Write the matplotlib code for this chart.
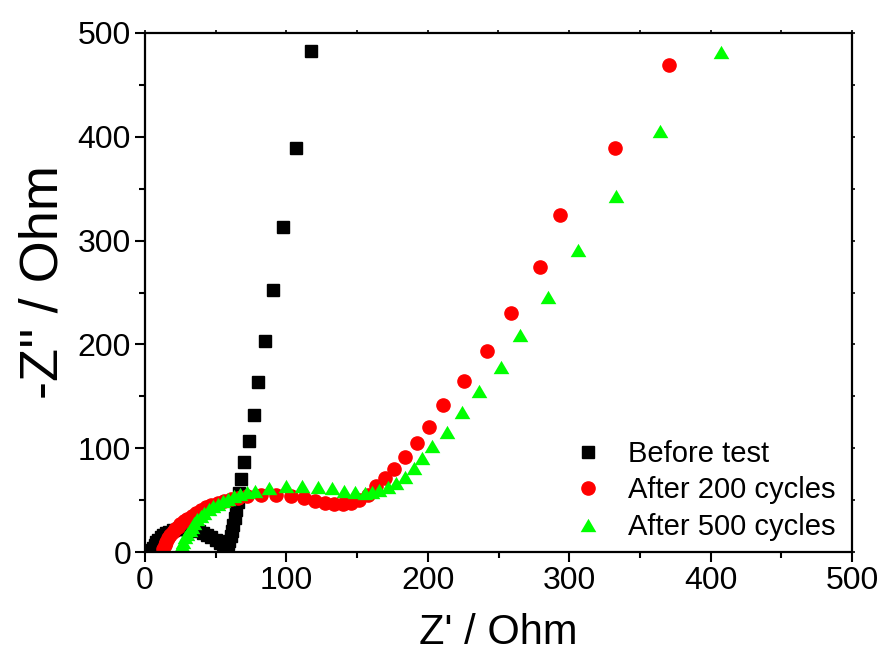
import matplotlib
matplotlib.use("Agg")
import matplotlib.pyplot as plt
from matplotlib.ticker import MultipleLocator

plt.rcParams['font.family'] = ['Liberation Sans', 'DejaVu Sans']

# ---- data (Z' , -Z'') ----
before_x = [5, 6, 7, 8, 9.5, 11, 13, 15, 17, 20, 23, 26, 29, 32, 35, 38, 41, 44,
            47, 50, 53, 55, 57, 58.5, 59.5, 60.5, 61.5, 62.5, 63.5, 64.5, 65.5,
            66.5, 67.8, 70.1, 73.9, 76.9, 80.2, 85.2, 90.6, 97.4, 106.6, 117.2]
before_y = [1.5, 4, 7, 9.5, 12, 14, 16, 18, 19.5, 21, 22, 22.5, 22.5, 22, 21,
            20, 18.5, 16.5, 14, 11.5, 9, 7.5, 7, 8, 11, 15, 20, 26, 33, 40, 48,
            57, 70, 86.5, 106.6, 132, 164, 203.6, 252.5, 312.9, 389.4, 482.5]

c200_x = [13, 14, 15, 16.5, 18, 19.5, 21, 23, 25, 27.5, 30, 33, 36, 39.5, 43,
          47, 51.5, 56, 61, 66, 72, 82, 92.6, 103.2, 112.6, 120.5, 127.5,
          133.8, 139.7, 145.6, 151.4, 157.4, 163.3, 169.8, 176.2, 183.7, 192.2,
          201, 211, 225.9, 241.7, 258.7, 279.2, 293.3, 332.6, 370.5]
c200_y = [3, 7, 10, 13.5, 16.5, 19.5, 22, 24.5, 27, 29.5, 32, 35, 37.5, 40.5,
          43, 45, 47, 49, 51, 52.5, 54, 54.5, 54.5, 53.5, 51.7, 49.4, 47.5,
          46.5, 46.3, 47, 50, 55, 63.6, 71, 80, 91.5, 105, 120.7, 141.5,
          164.7, 193.6, 230, 274.3, 325, 388.9, 468.9]

c500_x = [25, 26, 27, 28.5, 30, 31.5, 33, 35, 37, 39.5, 42, 45, 48, 51.5, 55,
          59, 63, 67, 72, 77.5, 88, 99.5, 111, 122, 132.5, 141, 148.5, 155.5,
          160.5, 165.5, 171.5, 177.5, 183.7, 190.3, 196.2, 203.3, 213.9, 224.2,
          236.3, 251.6, 265, 284.8, 306.5, 332.9, 364.2, 407.3]
c500_y = [3, 7, 10, 14, 17.5, 21, 24.5, 28, 31.5, 35, 38, 41, 44, 46.5, 49,
          51.5, 54, 56, 57.5, 59, 62, 63.5, 64, 63, 61.5, 59, 57.5, 57, 58,
          59.5, 62.5, 66, 72, 80.6, 90.3, 102, 115.5, 134.6, 155.4, 178.5,
          208.8, 245.4, 291, 343, 405.9, 481.4]

labels = ["Before test", "After 200 cycles", "After 500 cycles"]
xticks = [0, 100, 200, 300, 400, 500]
yticks = [0, 100, 200, 300, 400, 500]

fig = plt.figure(figsize=(8.86, 6.55), dpi=100)
ax = fig.add_axes([145/886, 1-552/655, (852-145)/886, (552-33)/655])

tri = [(-1, -0.85), (1, -0.85), (0, 0.85)]
ax.plot(before_x, before_y, ls='none', marker='s', ms=8, color='black',
        mec='black', label=labels[0])
ax.plot(c200_x, c200_y, ls='none', marker='o', ms=9.5, color='#ff0000',
        mec='#ff0000', label=labels[1])
ax.plot(c500_x, c500_y, ls='none', marker=tri, ms=11.3, color='#00ff00',
        mec='#00ff00', mew=0, label=labels[2])

ax.set_xlim(0, 500)
ax.set_ylim(0, 500)
ax.set_xticks(xticks)
ax.set_yticks(yticks)
ax.xaxis.set_minor_locator(MultipleLocator(50))
ax.yaxis.set_minor_locator(MultipleLocator(50))
ax.tick_params(which='major', direction='out', length=7, width=1.5,
               labelsize=23, pad=3, top=False, right=False)
ax.tick_params(which='minor', direction='out', length=4, width=1.5,
               top=False, right=False)
for s in ax.spines.values():
    s.set_linewidth(1.6)

# tiny outward ticks on top and right axes
secx = ax.secondary_xaxis('top')
secx.set_xticks(list(range(0, 501, 50)))
secx.tick_params(direction='out', length=2, width=1.2, labeltop=False)
secx.spines['top'].set_visible(False)
secy = ax.secondary_yaxis('right')
secy.set_yticks(list(range(0, 501, 50)))
secy.tick_params(direction='out', length=2, width=1.2, labelright=False)
secy.spines['right'].set_visible(False)

ax.set_xlabel("Z' / Ohm", fontsize=30)
ax.set_ylabel("-Z'' / Ohm", fontsize=39)
ax.xaxis.set_label_coords(0.5, -0.117)
ax.yaxis.set_label_coords(-0.108, 0.52)

leg = ax.legend(loc='upper left', bbox_to_anchor=(0.606, 0.216),
                frameon=False, fontsize=21, borderpad=0, borderaxespad=0,
                handlelength=1.0, handletextpad=0.87, labelspacing=0.29,
                markerscale=1.0)

fig.savefig("out.png", dpi=100)
